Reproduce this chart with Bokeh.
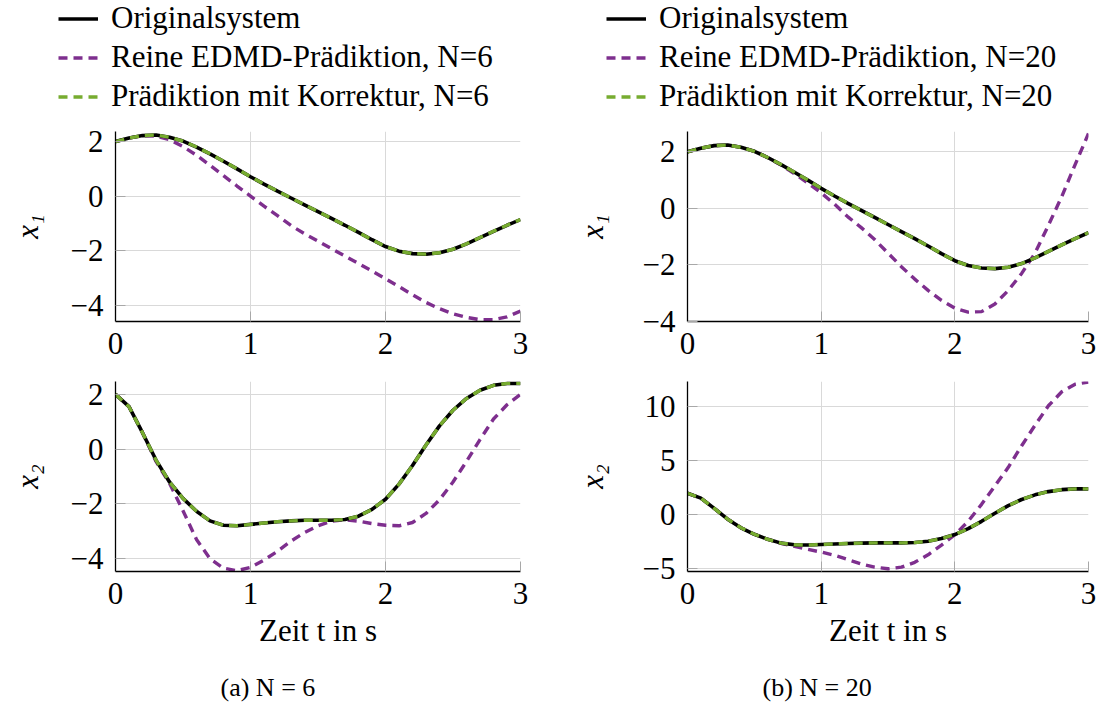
from bokeh.plotting import figure
from bokeh.layouts import row, column
from bokeh.models import FixedTicker, Legend, LegendItem, Title, Range1d
from bokeh.embed import file_html
from bokeh.resources import INLINE

# ---------------- data ----------------
t = [0.0, 0.1, 0.2, 0.3, 0.4, 0.5, 0.6, 0.7, 0.8, 0.9, 1.0,
     1.1, 1.2, 1.3, 1.4, 1.5, 1.6, 1.7, 1.8, 1.9, 2.0,
     2.1, 2.2, 2.3, 2.4, 2.5, 2.6, 2.7, 2.8, 2.9, 3.0]

# Originalsystem
x1_orig = [2.0, 2.13, 2.22, 2.24, 2.16, 2.02, 1.8, 1.55, 1.28, 1.0, 0.71,
           0.44, 0.18, -0.07, -0.32, -0.57, -0.82, -1.07, -1.33, -1.6, -1.85,
           -2.02, -2.11, -2.13, -2.08, -1.95, -1.75, -1.52, -1.29, -1.07, -0.86]
x2_orig = [2.0, 1.55, 0.6, -0.4, -1.2, -1.8, -2.27, -2.62, -2.78, -2.8, -2.75,
           -2.7, -2.65, -2.62, -2.6, -2.6, -2.6, -2.57, -2.45, -2.2, -1.83,
           -1.28, -0.6, 0.15, 0.85, 1.42, 1.85, 2.15, 2.33, 2.4, 2.4]

# Reine EDMD-Prädiktion, N=6
x1_edmd_n6 = [2.0, 2.13, 2.21, 2.2, 2.07, 1.82, 1.5, 1.13, 0.75, 0.37, 0.0,
              -0.37, -0.72, -1.08, -1.38, -1.65, -1.93, -2.2, -2.47, -2.75, -3.03,
              -3.32, -3.62, -3.9, -4.13, -4.32, -4.45, -4.53, -4.53, -4.43, -4.22]
x2_edmd_n6 = [2.0, 1.55, 0.6, -0.45, -1.25, -2.25, -3.3, -4.0, -4.35, -4.44, -4.32,
              -4.05, -3.73, -3.36, -3.05, -2.8, -2.63, -2.58, -2.63, -2.72, -2.78,
              -2.8, -2.68, -2.35, -1.85, -1.2, -0.45, 0.35, 1.1, 1.62, 2.0]

# Reine EDMD-Prädiktion, N=20
x1_edmd_n20 = [2.0, 2.13, 2.22, 2.24, 2.16, 2.02, 1.8, 1.53, 1.23, 0.9, 0.55,
               0.15, -0.3, -0.68, -1.1, -1.58, -2.06, -2.5, -2.9, -3.25, -3.53,
               -3.67, -3.65, -3.38, -2.9, -2.3, -1.58, -0.6, 0.42, 1.55, 2.65]
x2_edmd_n20 = [2.0, 1.55, 0.6, -0.4, -1.2, -1.8, -2.27, -2.65, -2.93, -3.2, -3.45,
               -3.75, -4.15, -4.55, -4.85, -5.0, -4.85, -4.4, -3.7, -2.8, -1.84,
               -0.6, 0.97, 2.68, 4.4, 6.4, 8.3, 10.1, 11.4, 12.1, 12.3]

# Prädiktion mit Korrektur (coincides with the original system)
x1_korr_n6 = x1_orig
x2_korr_n6 = x2_orig
x1_korr_n20 = x1_orig
x2_korr_n20 = x2_orig

x_ticks = [0, 1, 2, 3]
x_tick_labels = ["0", "1", "2", "3"]
y_ticks_a1 = [-4, -2, 0, 2]
y_labels_a1 = ["\u22124", "\u22122", "0", "2"]
y_ticks_a2 = [-4, -2, 0, 2]
y_labels_a2 = ["\u22124", "\u22122", "0", "2"]
y_ticks_b1 = [-4, -2, 0, 2]
y_labels_b1 = ["\u22124", "\u22122", "0", "2"]
y_ticks_b2 = [-5, 0, 5, 10]
y_labels_b2 = ["\u22125", "0", "5", "10"]

legend_labels_a = ["Originalsystem", "Reine EDMD-Prädiktion, N=6", "Prädiktion mit Korrektur, N=6"]
legend_labels_b = ["Originalsystem", "Reine EDMD-Prädiktion, N=20", "Prädiktion mit Korrektur, N=20"]

# ---------------- style ----------------
FONT = '"Liberation Serif", serif'
BLACK = "#000000"
PURPLE = "#7E2F8E"
GREEN = "#77AC30"
GRID = "#d9d9d9"
FS = "31px"
DASH = "9 6"
W_BLACK = 3.6
W_DASH = 3.4


def make_panel(fw, bl, br, bt, bb, yr, yticks, ylabels, ylabel, ylabel_standoff,
               orig, edmd, korr, show_xlabel=False):
    p = figure(frame_width=fw, frame_height=190, x_range=Range1d(0, 3), y_range=Range1d(*yr),
               output_backend="svg", toolbar_location=None,
               min_border_left=bl, min_border_right=br, min_border_top=bt, min_border_bottom=bb)
    p.outline_line_color = None
    p.background_fill_color = "white"
    p.border_fill_color = "white"
    p.line(t, edmd, line_color=PURPLE, line_width=W_DASH, line_dash=DASH)
    p.line(t, orig, line_color=BLACK, line_width=W_BLACK)
    p.line(t, korr, line_color=GREEN, line_width=W_DASH, line_dash=DASH)

    p.xaxis.ticker = FixedTicker(ticks=x_ticks)
    p.xaxis.major_label_overrides = dict(zip(x_ticks, x_tick_labels))
    p.yaxis.ticker = FixedTicker(ticks=yticks)
    p.yaxis.major_label_overrides = dict(zip(yticks, ylabels))
    for ax in (p.xaxis[0], p.yaxis[0]):
        ax.axis_line_color = BLACK
        ax.axis_line_width = 1.3
        ax.major_tick_in = 10
        ax.major_tick_out = 0
        ax.major_tick_line_color = "#a8a8a8"
        ax.major_tick_line_width = 1
        ax.minor_tick_line_color = None
        ax.major_label_text_font = FONT
        ax.major_label_text_font_size = FS
        ax.major_label_text_color = BLACK
        ax.axis_label_text_font = FONT
        ax.axis_label_text_font_size = FS
        ax.axis_label_text_color = BLACK
    p.yaxis.major_label_standoff = 12
    p.xaxis.major_label_standoff = 11
    p.yaxis.axis_label = ylabel
    p.yaxis.axis_label_text_font_style = "italic"
    p.yaxis.axis_label_standoff = ylabel_standoff
    if show_xlabel:
        p.xaxis.axis_label = "Zeit t in s"
        p.xaxis.axis_label_text_font_style = "normal"
        p.xaxis.axis_label_standoff = 6
    p.xgrid.grid_line_color = GRID
    p.ygrid.grid_line_color = GRID
    p.xgrid.grid_line_width = 1
    p.ygrid.grid_line_width = 1
    return p


def make_legend_fig(width, height, labels, xoff, orig, edmd, korr):
    # legend-only figure: the series lie outside its (hidden) ranges
    p = figure(width=width, height=height, x_axis_type=None, y_axis_type=None,
               x_range=Range1d(100, 101), y_range=Range1d(100, 101),
               output_backend="svg", toolbar_location=None, frame_align=False,
               min_border_left=0, min_border_right=0, min_border_top=0, min_border_bottom=0)
    p.outline_line_color = None
    p.xgrid.visible = False
    p.ygrid.visible = False
    r1 = p.line(t, orig, line_color=BLACK, line_width=W_BLACK)
    r2 = p.line(t, edmd, line_color=PURPLE, line_width=W_DASH, line_dash=DASH)
    r3 = p.line(t, korr, line_color=GREEN, line_width=W_DASH, line_dash=DASH)
    items = [LegendItem(label=lab, renderers=[r]) for lab, r in zip(labels, (r1, r2, r3))]
    leg = Legend(items=items, location=(xoff, 6), orientation="vertical",
                 border_line_color=None, background_fill_alpha=0, padding=0, margin=0,
                 spacing=3, glyph_width=40, glyph_height=33, label_height=33, label_standoff=13,
                 label_text_font=FONT, label_text_font_size=FS, label_text_color=BLACK)
    p.add_layout(leg, "center")
    return p


def add_caption(p, text, off):
    p.add_layout(Title(text=text, align="left", offset=off, text_font=FONT,
                       text_font_size="26px", text_font_style="normal", text_color=BLACK,
                       standoff=40), "below")


# left column
la = make_legend_fig(568, 120, legend_labels_a, 58, x1_orig, x1_edmd_n6, x1_korr_n6)
pa1 = make_panel(405, 115, 48, 11, 45, (-4.6, 2.37), y_ticks_a1, y_labels_a1,
                 "x\u2081", 23, x1_orig, x1_edmd_n6, x1_korr_n6)
pa2 = make_panel(405, 115, 48, 15, 130, (-4.47, 2.47), y_ticks_a2, y_labels_a2,
                 "x\u2082", 23, x2_orig, x2_edmd_n6, x2_korr_n6, show_xlabel=True)
add_caption(pa2, "(a) N = 6", 105)

# right column
lb = make_legend_fig(529, 120, legend_labels_b, 38, x1_orig, x1_edmd_n20, x1_korr_n20)
pb1 = make_panel(401, 119, 9, 11, 45, (-4.0, 2.72), y_ticks_b1, y_labels_b1,
                 "x\u2081", 30, x1_orig, x1_edmd_n20, x1_korr_n20)
pb2 = make_panel(401, 119, 9, 15, 130, (-5.25, 12.35), y_ticks_b2, y_labels_b2,
                 "x\u2082", 30, x2_orig, x2_edmd_n20, x2_korr_n20, show_xlabel=True)
add_caption(pb2, "(b) N = 20", 75)

layout = row(column(la, pa1, pa2, spacing=0), column(lb, pb1, pb2, spacing=0), spacing=0)

open("out.html", "w").write(file_html(layout, INLINE))
